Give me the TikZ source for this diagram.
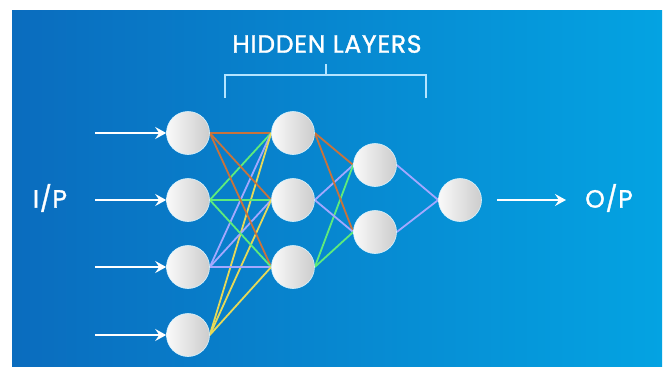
\documentclass[tikz,border=0pt]{standalone}
\usepackage{fontspec}
\setmainfont{Poppins}
\usetikzlibrary{arrows.meta}
\definecolor{bgleft}{HTML}{0A6CBE}
\definecolor{bgright}{HTML}{04A3E2}
\definecolor{wOrange}{HTML}{C8733C}
\definecolor{wGreen}{HTML}{5EEB7C}
\definecolor{wLilac}{HTML}{A3A8FF}
\definecolor{wYellow}{HTML}{E6D957}
\definecolor{bracketcol}{HTML}{B4E4FF}
\pgfdeclarelayer{backdrop}
\pgfdeclarelayer{wires}
\pgfsetlayers{backdrop,wires,main}
\tikzset{
  neuron/.style={circle, minimum size=43pt, inner sep=0pt,
    left color=white!96!gray, right color=black!20!white,
    draw=white!85!cyan, line width=0.6pt},
  wire/.style={line width=1.8pt},
  feed/.style={draw=white, line width=1.8pt, -{Stealth[length=11pt,width=12pt,inset=4pt]}},
  caption/.style={text=white, inner sep=0pt,
    font=\fontsize{25}{28}\selectfont\addfontfeatures{FakeBold=1.3,LetterSpace=3}},
}
\begin{document}
\begin{tikzpicture}[x=1pt,y=-1pt]
  \useasboundingbox (0,0) rectangle (667,367);
  \begin{pgfonlayer}{backdrop}
    \fill[white] (0,0) rectangle (667,367);
    \shade[left color=bgleft, right color=bgright] (12,10) rectangle (662,366);
  \end{pgfonlayer}

  % input layer
  \node[neuron] (i1) at (188,133) {};
  \node[neuron] (i2) at (188,200) {};
  \node[neuron] (i3) at (188,267) {};
  \node[neuron] (i4) at (188,335) {};
  % first hidden layer
  \node[neuron] (h1) at (293,133) {};
  \node[neuron] (h2) at (293,200) {};
  \node[neuron] (h3) at (293,267) {};
  % second hidden layer
  \node[neuron] (g1) at (375,165) {};
  \node[neuron] (g2) at (375,232) {};
  % output layer
  \node[neuron] (o) at (460,200) {};

  % weights, kept underneath the neurons
  \begin{pgfonlayer}{wires}
    \foreach \t in {h1,h2,h3} {
      \draw[wire, wOrange] (i1.east) -- (\t.west);
      \draw[wire, wGreen]  (i2.east) -- (\t.west);
      \draw[wire, wLilac]  (i3.east) -- (\t.west);
      \draw[wire, wYellow] (i4.east) -- (\t.west);
    }
    \foreach \t in {g1,g2} {
      \draw[wire, wOrange] (h1.east) -- (\t.west);
      \draw[wire, wLilac]  (h2.east) -- (\t.west);
      \draw[wire, wGreen]  (h3.east) -- (\t.west);
      \draw[wire, wLilac]  (\t.east) -- (o.west);
    }
  \end{pgfonlayer}

  % input and output arrows
  \coordinate (s1) at (95,133);
  \coordinate (s2) at (95,200);
  \coordinate (s3) at (95,267);
  \coordinate (s4) at (95,335);
  \draw[feed] (s1) -- (i1.west);
  \draw[feed] (s2) -- (i2.west);
  \draw[feed] (s3) -- (i3.west);
  \draw[feed] (s4) -- (i4.west);
  \coordinate (t0) at (497,200);
  \coordinate (t) at (566,200);
  \draw[feed] (t0) -- (t);

  % labels
  \node[caption] (ip) at (50,198) {I/P};
  \node[caption] (op) at (609,198) {O/P};
  \node[caption] (hl) at (327,44) {HIDDEN LAYERS};

  % bracket over the hidden layers
  \draw[bracketcol, line width=1.5pt] (225,98) -- (225,75) -- (426,75) -- (426,98);
  \draw[bracketcol, line width=1.5pt] (326,75) -- (326,64);
\end{tikzpicture}
\end{document}
